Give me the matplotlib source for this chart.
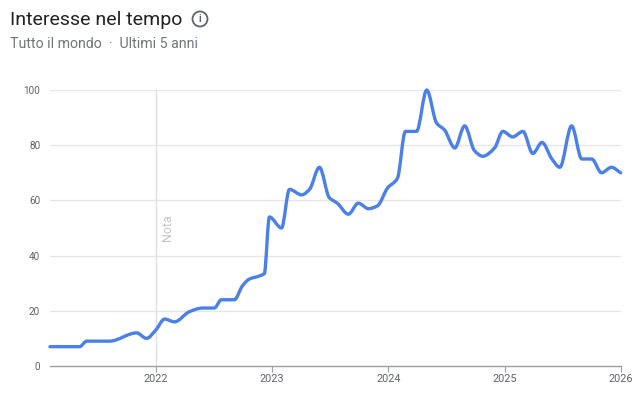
import matplotlib
matplotlib.use("Agg")
import matplotlib.pyplot as plt
import matplotlib.dates as mdates
import numpy as np
import pandas as pd
from matplotlib.patches import Ellipse, PathPatch
from matplotlib.path import Path

plt.rcParams['font.family'] = ['Roboto', 'DejaVu Sans']

title = "Interesse nel tempo"
subtitle = "Tutto il mondo  ·  Ultimi 5 anni"
note_label = "Nota"
note_date = "2022-01-01"

dates = ["2021-02-03", "2021-05-07", "2021-05-29", "2021-08-09", "2021-11-02",
         "2021-12-03", "2022-01-01", "2022-01-29", "2022-03-01", "2022-04-17",
         "2022-05-28", "2022-07-04", "2022-07-26", "2022-09-05", "2022-09-30",
         "2022-10-22", "2022-11-22", "2022-12-08", "2022-12-24", "2023-01-31",
         "2023-02-25", "2023-04-04", "2023-04-29", "2023-05-30", "2023-06-30",
         "2023-07-25", "2023-08-29", "2023-09-29", "2023-10-31", "2023-11-28",
         "2023-12-30", "2024-01-30", "2024-02-24", "2024-03-30", "2024-05-01",
         "2024-06-01", "2024-06-26", "2024-07-28", "2024-08-28", "2024-09-28",
         "2024-10-24", "2024-11-30", "2024-12-26", "2025-01-26", "2025-02-27",
         "2025-03-30", "2025-04-28", "2025-05-29", "2025-06-23", "2025-07-30",
         "2025-08-31", "2025-10-01", "2025-11-01", "2025-12-02", "2025-12-31"]
values = [7, 7, 9, 9, 12,
          10, 13, 17, 16, 19.7,
          21, 21, 24, 24, 29,
          31.5, 32.6, 33.5, 54, 50,
          64, 62, 64, 72, 61,
          59, 55, 59, 57, 58,
          64.5, 68, 85, 85, 100,
          88, 85.5, 79, 87, 78,
          76, 79, 85, 83, 85,
          77, 81, 75, 72, 87,
          75, 75, 70, 72, 70]
year_ticks = ["2022", "2023", "2024", "2025", "2026"]
y_ticks = [0, 20, 40, 60, 80, 100]


def smooth_path(xs, ys):
    """Monotone cubic (Fritsch-Carlson) curve through the points, as Bezier path."""
    xs = np.asarray(xs, float)
    ys = np.asarray(ys, float)
    h = np.diff(xs)
    d = np.diff(ys) / h
    m = np.zeros_like(ys)
    m[0], m[-1] = d[0], d[-1]
    for i in range(1, len(ys) - 1):
        if d[i - 1] * d[i] <= 0:
            m[i] = 0.0
        else:
            w1 = 2 * h[i] + h[i - 1]
            w2 = h[i] + 2 * h[i - 1]
            m[i] = (w1 + w2) / (w1 / d[i - 1] + w2 / d[i])
    verts = [(xs[0], ys[0])]
    codes = [Path.MOVETO]
    for i in range(len(xs) - 1):
        verts += [(xs[i] + h[i] / 3, ys[i] + m[i] * h[i] / 3),
                  (xs[i + 1] - h[i] / 3, ys[i + 1] - m[i + 1] * h[i] / 3),
                  (xs[i + 1], ys[i + 1])]
        codes += [Path.CURVE4] * 3
    return Path(verts, codes)


x = pd.to_datetime(dates)
xn = mdates.date2num(x)

fig = plt.figure(figsize=(6.4, 3.96), dpi=100)
W, H = 640, 396
ax = fig.add_axes([50 / W, 1 - 366 / H, (621 - 50) / W, (366 - 90) / H])

# invisible base line so the axis is date-scaled through the library
ax.plot(x, values, lw=0, alpha=0)
patch = PathPatch(smooth_path(xn, values), facecolor='none', edgecolor='#4a80e8',
                  lw=2.4, joinstyle='round', capstyle='round', clip_on=False,
                  zorder=3, transform=ax.transData)
ax.add_patch(patch)

ax.set_xlim(x[0], pd.Timestamp("2026-01-01"))
ax.set_ylim(0, 100)

for s in ['top', 'right', 'left']:
    ax.spines[s].set_visible(False)
ax.spines['bottom'].set_color('#9e9e9e')
ax.spines['bottom'].set_linewidth(1.0)

ax.set_yticks(y_ticks)
ax.set_yticklabels([str(v) for v in y_ticks])
ax.tick_params(axis='y', length=0, pad=7, labelsize=7.2, labelcolor='#5f6368')
for v in y_ticks[1:]:
    ax.axhline(v, color='#e6e6e6', lw=0.9, zorder=1)

ax.set_xticks(pd.to_datetime([y + "-01-01" for y in year_ticks]))
ax.set_xticklabels(year_ticks)
ax.tick_params(axis='x', length=4, width=0.8, color='#9e9e9e', pad=2,
               labelsize=7.8, labelcolor='#5f6368')

nd = pd.Timestamp(note_date)
ax.axvline(nd, color='#e0e0e0', lw=1.0, zorder=1)
ax.text(nd + pd.Timedelta(days=36), 55, note_label, rotation=90, ha='center',
        va='top', fontsize=9, color='#c4c4c4')

fig.text(10 / W, 1 - 25 / H, title, fontsize=14, color='#202124',
         ha='left', va='baseline')
fig.text(10 / W, 1 - 47.5 / H, subtitle, fontsize=10.2, color='#70757a',
         ha='left', va='baseline')

# info icon
cx, cy, r = 200, 19, 7.5
ell = Ellipse((cx / W, 1 - cy / H), 2 * r / W, 2 * r / H, transform=fig.transFigure,
              fill=False, edgecolor='#5f6368', lw=1.3)
fig.patches.append(ell)
fig.text(cx / W, 1 - cy / H, "i", fontsize=7.5, color='#5f6368', ha='center',
         va='center', fontweight='bold')

fig.savefig("out.png", dpi=100)
